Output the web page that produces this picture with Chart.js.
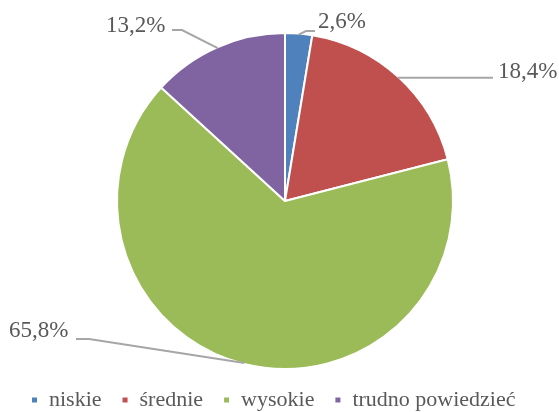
<!DOCTYPE html>
<html>
<head>
<meta charset="utf-8">
<script src="https://cdn.jsdelivr.net/npm/chart.js@4"></script>
<style>
  html, body { margin: 0; padding: 0; background: #fff; }
  #wrap { width: 559px; height: 412px; position: relative; }
</style>
</head>
<body>
<div id="wrap"><canvas id="udzialChart"></canvas></div>
<script>
// dane
const categories = ['niskie', 'średnie', 'wysokie', 'trudno powiedzieć'];
const shares = [2.6, 18.4, 65.8, 13.2];
const shareLabels = ['2,6%', '18,4%', '65,8%', '13,2%'];
const colors = ['#4F81BD', '#C0504D', '#9BBB59', '#8064A2'];

// położenie etykiet względem środka koła (tekst + linia odniesienia)
const labelLayout = [
  { tx: 33, ty: -173, elbow: [21, -170], end: [30, -170] },
  { tx: 213, ty: -123, elbow: null, end: [208, -123] },
  { tx: -276, ty: 136, elbow: [-196, 138], end: [-209, 138] },
  { tx: -179, ty: -169, elbow: [-103, -171], end: [-113, -171] }
];

const labelFont = '23px "Liberation Serif", "Times New Roman", serif';

const leaderLabels = {
  id: 'leaderLabels',
  afterDatasetsDraw(chart) {
    const ctx = chart.ctx;
    const meta = chart.getDatasetMeta(0);
    ctx.save();
    meta.data.forEach((arc, i) => {
      const p = arc.getProps(['x', 'y', 'startAngle', 'endAngle', 'outerRadius'], true);
      const mid = (p.startAngle + p.endAngle) / 2;
      const ex = p.x + Math.cos(mid) * (p.outerRadius - 1);
      const ey = p.y + Math.sin(mid) * (p.outerRadius - 1);
      const l = labelLayout[i];

      ctx.strokeStyle = '#A6A6A6';
      ctx.lineWidth = 2;
      ctx.beginPath();
      ctx.moveTo(ex, ey);
      if (l.elbow) ctx.lineTo(p.x + l.elbow[0], p.y + l.elbow[1]);
      ctx.lineTo(p.x + l.end[0], l.elbow ? p.y + l.end[1] : ey);
      ctx.stroke();

      ctx.font = labelFont;
      ctx.fillStyle = '#595959';
      ctx.textAlign = 'left';
      ctx.textBaseline = 'alphabetic';
      ctx.fillText(shareLabels[i], p.x + l.tx, p.y + l.ty);
    });
    ctx.restore();
  }
};

const ctx = document.getElementById('udzialChart').getContext('2d');
const udzialChart = new Chart(ctx, {
  type: 'pie',
  data: {
    labels: categories,
    datasets: [{
      data: shares,
      backgroundColor: colors,
      borderColor: '#ffffff',
      borderWidth: 2
    }]
  },
  options: {
    responsive: true,
    maintainAspectRatio: false,
    animation: false,
    radius: 168,
    layout: {
      padding: { left: 11, top: 33, right: 0, bottom: 0 }
    },
    plugins: {
      tooltip: { enabled: false },
      legend: {
        position: 'bottom',
        align: 'start',
        maxHeight: 43,
        labels: {
          boxWidth: 7,
          boxHeight: 7,
          padding: 20,
          color: '#595959',
          font: { family: '"Liberation Serif", "Times New Roman", serif', size: 22 }
        }
      }
    }
  },
  plugins: [leaderLabels]
});
</script>
</body>
</html>
